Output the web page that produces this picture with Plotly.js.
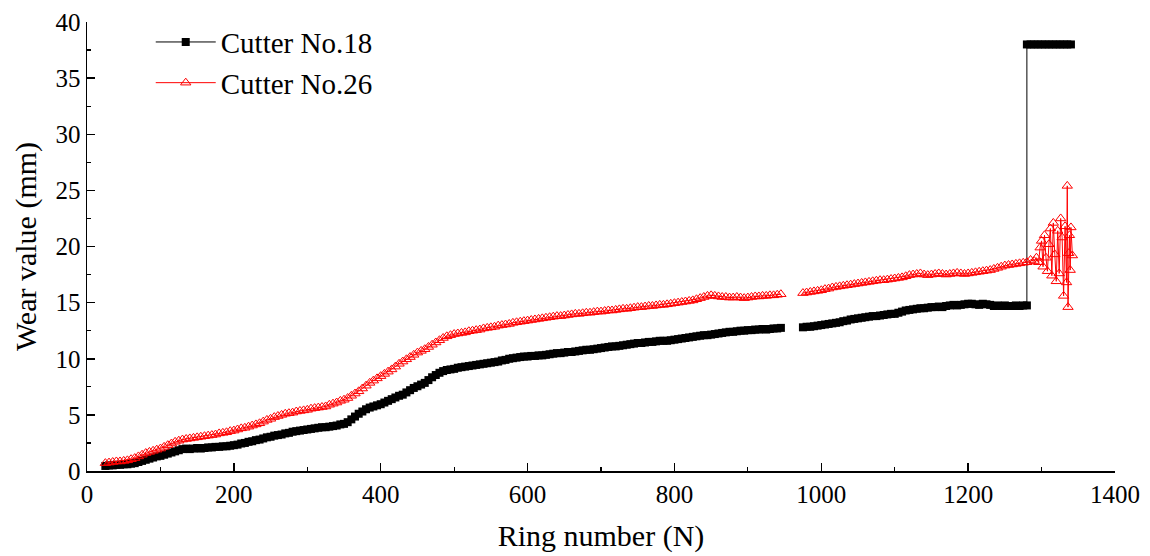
<!DOCTYPE html>
<html>
<head>
<meta charset="utf-8">
<script src="https://cdn.plot.ly/plotly-3.0.1.min.js"></script>
<style>html,body{margin:0;padding:0;background:#fff;}</style>
</head>
<body>
<div id="chart"></div>
<script>
// Ring numbers: first segment starts at 25, second at 975, both sampled every 5 rings
const seg1Start = 25, seg2Start = 975, ringStep = 5;

// Cutter No.18 wear (mm), rings 25..945
const cutter18Seg1 = [
0.45,0.5,0.5,0.55,0.55,0.6,0.6,0.65,0.7,0.8,0.9,1.0,1.1,1.2,1.3,1.35,1.45,1.55,1.65,1.75,
1.85,1.95,2.0,1.95,2.0,2.05,2.0,2.05,2.1,2.1,2.15,2.15,2.2,2.2,2.25,2.3,2.35,2.45,2.5,2.6,
2.65,2.75,2.8,2.9,3.0,3.05,3.15,3.2,3.25,3.35,3.4,3.5,3.55,3.6,3.65,3.7,3.75,3.8,3.85,3.9,
3.9,3.95,4.0,4.05,4.15,4.2,4.35,4.6,4.85,5.1,5.3,5.5,5.65,5.75,5.85,5.95,6.1,6.25,6.4,6.55,
6.7,6.8,7.0,7.2,7.4,7.55,7.7,7.85,8.1,8.35,8.55,8.75,8.9,9.0,9.05,9.1,9.2,9.25,9.3,9.35,
9.4,9.45,9.5,9.55,9.6,9.65,9.7,9.75,9.85,9.9,10.0,10.05,10.1,10.15,10.2,10.2,10.25,10.25,10.3,10.3,
10.35,10.4,10.45,10.5,10.5,10.55,10.6,10.6,10.65,10.7,10.75,10.8,10.8,10.85,10.9,10.95,11.0,11.05,11.1,11.1,
11.15,11.2,11.25,11.3,11.35,11.4,11.4,11.45,11.5,11.5,11.55,11.6,11.6,11.6,11.65,11.7,11.75,11.8,11.85,11.9,
11.95,12.0,12.05,12.1,12.1,12.15,12.2,12.25,12.3,12.35,12.4,12.4,12.45,12.5,12.5,12.55,12.55,12.6,12.6,12.65,
12.6,12.65,12.7,12.7,12.75
];
// Cutter No.18 wear (mm), rings 975..1280
const cutter18Seg2 = [
12.8,12.85,12.85,12.9,12.95,13.0,13.05,13.1,13.15,13.2,13.25,13.35,13.4,13.5,13.55,13.6,13.65,13.7,13.75,13.8,
13.8,13.85,13.9,13.95,14.0,14.0,14.1,14.2,14.3,14.35,14.4,14.45,14.5,14.5,14.55,14.6,14.6,14.65,14.6,14.7,
14.75,14.8,14.75,14.8,14.85,14.9,14.9,14.85,14.8,14.9,14.85,14.8,14.7,14.75,14.7,14.75,14.7,14.7,14.75,14.7,
14.75,14.75
];
// Cutter No.18 after the jump
const cutter18TailRings = [1280,1285,1290,1295,1300,1305,1310,1315,1320,1325,1330,1335,1340];
const cutter18TailWear  = [38,38,38,38,38,38,38,38,38,38,38,38,38];

// Cutter No.26 wear (mm), rings 25..945
const cutter26Seg1 = [
0.7,0.75,0.8,0.85,0.85,0.9,0.95,1.05,1.15,1.3,1.45,1.6,1.7,1.8,1.9,2.0,2.15,2.3,2.45,2.6,
2.7,2.8,2.85,2.9,2.95,3.0,3.05,3.1,3.15,3.2,3.25,3.35,3.4,3.45,3.55,3.6,3.7,3.8,3.85,3.95,
4.05,4.15,4.25,4.4,4.55,4.65,4.8,4.9,5.0,5.1,5.15,5.2,5.3,5.35,5.4,5.45,5.55,5.6,5.65,5.7,
5.75,5.9,6.0,6.1,6.25,6.35,6.5,6.7,6.9,7.1,7.35,7.6,7.85,8.05,8.25,8.45,8.65,8.85,9.05,9.3,
9.55,9.75,9.95,10.15,10.35,10.55,10.7,10.85,11.05,11.25,11.45,11.65,11.85,12.0,12.1,12.2,12.25,12.3,12.35,12.45,
12.5,12.55,12.6,12.7,12.75,12.8,12.85,12.95,13.0,13.05,13.1,13.2,13.25,13.3,13.35,13.4,13.45,13.5,13.55,13.6,
13.65,13.7,13.75,13.8,13.8,13.85,13.9,13.95,14.0,14.0,14.05,14.1,14.1,14.15,14.2,14.2,14.25,14.3,14.3,14.35,
14.4,14.45,14.45,14.5,14.55,14.6,14.6,14.65,14.7,14.7,14.75,14.8,14.8,14.85,14.9,14.95,15.0,15.05,15.1,15.15,
15.2,15.3,15.4,15.5,15.6,15.65,15.6,15.55,15.5,15.5,15.45,15.45,15.5,15.45,15.4,15.45,15.5,15.55,15.55,15.6,
15.6,15.65,15.65,15.7,15.75
];
// Cutter No.26 wear (mm), rings 975..1280
const cutter26Seg2 = [
15.85,15.9,15.95,16.0,16.05,16.1,16.2,16.25,16.35,16.4,16.45,16.5,16.55,16.6,16.65,16.7,16.75,16.8,16.85,16.9,
16.95,17.0,17.0,17.05,17.1,17.15,17.2,17.25,17.35,17.45,17.5,17.55,17.6,17.5,17.45,17.5,17.55,17.6,17.55,17.5,
17.55,17.6,17.65,17.6,17.55,17.6,17.65,17.7,17.75,17.8,17.85,17.9,18.0,18.1,18.2,18.3,18.35,18.4,18.45,18.5,
18.55,18.6
];
// Cutter No.26 final scattered readings
const cutter26TailRings = [1285,1290,1293,1296,1298,1300,1302,1304,1306,1308,1310,1312,1314,1316,1318,1320,1322,1324,1326,1328,1330,1332,1334,1335,1336,1337,1338,1339,1340,1342];
const cutter26TailWear  = [18.8,18.7,19.0,18.6,19.9,20.5,18.2,21.0,19.0,17.8,20.2,21.6,17.4,22.1,19.3,16.9,21.4,17.6,22.5,20.8,15.6,21.8,16.8,25.4,14.6,19.4,21.0,17.9,21.7,19.2];

const xTicks = [0,200,400,600,800,1000,1200,1400];
const yTicks = [0,5,10,15,20,25,30,35,40];

function rings(start, n){ const r=[]; for(let i=0;i<n;i++) r.push(start+i*ringStep); return r; }

const x18 = [].concat(rings(seg1Start,cutter18Seg1.length),[960],rings(seg2Start,cutter18Seg2.length),cutter18TailRings);
const y18 = [].concat(cutter18Seg1,[null],cutter18Seg2,cutter18TailWear);
const x26 = [].concat(rings(seg1Start,cutter26Seg1.length),[960],rings(seg2Start,cutter26Seg2.length),cutter26TailRings);
const y26 = [].concat(cutter26Seg1,[null],cutter26Seg2,cutter26TailWear);

const SERIF = 'Liberation Serif';

const traces = [
  {x:x18, y:y18, name:'Cutter No.18', type:'scatter', mode:'lines+markers', connectgaps:false,
   line:{color:'#000000', width:1}, marker:{symbol:'square', size:8, color:'#000000'}},
  {x:x26, y:y26, name:'Cutter No.26', type:'scatter', mode:'lines+markers', connectgaps:false,
   line:{color:'#ff0000', width:1}, marker:{symbol:'triangle-up-open', size:9, color:'#ff0000', line:{width:1}}}
];

function axis(extra){
  return Object.assign({
    showgrid:false, zeroline:false, showline:true, linecolor:'#000', linewidth:1.5,
    ticks:'inside', ticklen:8, tickwidth:1.5, tickcolor:'#000',
    tickfont:{family:SERIF, size:25, color:'#000'}, mirror:false
  }, extra);
}

const layout = {
  width:1150, height:556,
  margin:{l:87, r:35, t:22, b:85},
  paper_bgcolor:'#fff', plot_bgcolor:'#fff',
  font:{family:SERIF, color:'#000', size:25},
  xaxis:axis({
    range:[0,1400], tickvals:xTicks, ticktext:xTicks.map(String),
    minor:{dtick:100, ticks:'inside', ticklen:4, tickcolor:'#000', tickwidth:1.2},
    title:{text:'Ring number (N)', font:{family:SERIF, size:30, color:'#000'}, standoff:18}
  }),
  yaxis:axis({
    range:[0,40], tickvals:yTicks, ticktext:yTicks.map(String),
    minor:{dtick:2.5, ticks:'inside', ticklen:4, tickcolor:'#000', tickwidth:1.2},
    title:{text:'Wear value (mm)', font:{family:SERIF, size:30, color:'#000'}, standoff:10}
  }),
  legend:{x:0.062, y:1.012, xanchor:'left', yanchor:'top', bgcolor:'rgba(0,0,0,0)',
    font:{family:SERIF, size:29, color:'#000'}, itemwidth:60, tracegroupgap:0},
  showlegend:true
};

function draw(){ Plotly.newPlot('chart', traces, layout, {displayModeBar:false, staticPlot:true}); }
if (document.fonts && document.fonts.load) {
  document.fonts.load('25px "Liberation Serif"').then(draw, draw);
} else { draw(); }
</script>
</body>
</html>
